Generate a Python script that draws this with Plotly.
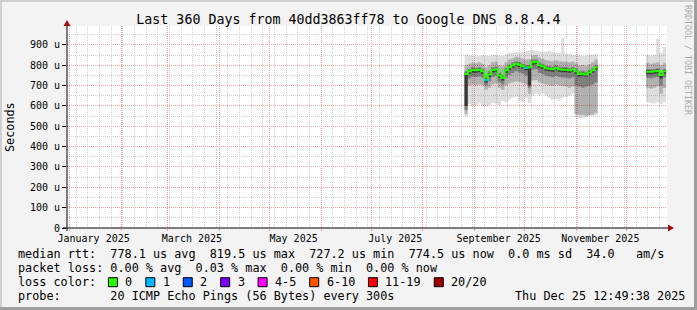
import pandas as pd
import plotly.graph_objects as go

# ---------------- data ----------------
T_START = "2024-12-30 12:49:38"
T_END = "2025-12-25 12:49:38"

# segment 1: 2-day bins starting 2025-08-26 (40 bins), segment 2: 2-day bins from 2025-12-13 (6 bins)
seg1_dates = pd.date_range("2025-08-26", periods=41, freq="2D")
seg2_dates = pd.date_range("2025-12-13", periods=7, freq="2D")

# values in microseconds
seg1_median = [757, 770, 777, 775, 778, 770, 727, 755, 777, 780,
               750, 737, 775, 790, 800, 808, 803, 795, 787, 790,
               815, 818, 800, 795, 785, 783, 780, 787, 780, 778,
               778, 775, 780, 770, 757, 760, 755, 765, 775, 790]
seg1_loss = [0, 0, 0, 0, 0, 0, 1, 0, 0, 0,
             0, 0, 0, 0, 0, 0, 0, 0, 1, 0,
             0, 0, 0, 0, 0, 0, 0, 0, 0, 0,
             0, 0, 0, 0, 0, 0, 0, 0, 0, 0]
seg1_hi1 = [850, 848, 845, 843, 846, 850, 848, 845, 850, 852,
            848, 845, 855, 860, 862, 865, 862, 866, 870, 872,
            875, 872, 868, 865, 868, 870, 865, 862, 860, 935,
            858, 855, 852, 850, 848, 845, 848, 850, 852, 855]
seg1_hi2 = [800, 808, 812, 810, 815, 808, 790, 800, 815, 818,
            800, 795, 815, 828, 835, 842, 838, 832, 828, 830,
            848, 850, 838, 832, 825, 822, 820, 825, 820, 818,
            818, 815, 818, 810, 800, 802, 798, 805, 815, 828]
seg1_hi3 = [770, 782, 790, 788, 790, 783, 745, 770, 790, 793,
            765, 752, 788, 803, 813, 820, 816, 808, 800, 803,
            828, 830, 813, 808, 798, 796, 793, 800, 793, 791,
            791, 788, 793, 783, 770, 773, 768, 778, 788, 803]
seg1_hi4 = [763, 776, 783, 781, 784, 776, 735, 762, 783, 786,
            757, 744, 781, 796, 806, 814, 809, 801, 793, 796,
            821, 824, 806, 801, 791, 789, 786, 793, 786, 784,
            784, 781, 786, 776, 763, 766, 761, 771, 781, 796]
seg1_lo4 = [600, 758, 765, 763, 766, 758, 715, 742, 765, 768,
            738, 725, 763, 778, 788, 796, 791, 783, 775, 700,
            803, 806, 788, 783, 773, 771, 768, 775, 768, 766,
            766, 763, 768, 758, 745, 748, 743, 753, 763, 778]
seg1_lo3 = [580, 735, 745, 742, 745, 738, 700, 720, 742, 748,
            715, 705, 740, 752, 762, 770, 765, 758, 750, 690,
            778, 780, 762, 757, 748, 745, 742, 748, 742, 740,
            738, 735, 740, 700, 695, 690, 695, 700, 705, 715]
seg1_lo2 = [560, 700, 705, 700, 705, 700, 680, 690, 705, 710,
            690, 680, 700, 710, 715, 720, 718, 712, 705, 660,
            725, 728, 715, 710, 705, 700, 698, 705, 700, 698,
            695, 690, 695, 560, 555, 555, 552, 555, 558, 565]
seg1_lo1 = [548, 610, 600, 605, 612, 598, 597, 605, 615, 612,
            602, 625, 620, 630, 640, 645, 625, 620, 640, 615,
            650, 660, 655, 664, 650, 640, 630, 635, 625, 640,
            645, 650, 660, 545, 541, 542, 545, 548, 550, 556]

seg2_median = [768, 768, 770, 772, 752, 770]
seg2_loss = [0, 0, 0, 0, 0, 0]
seg2_hi1 = [850, 845, 852, 930, 860, 890]
seg2_hi2 = [812, 808, 810, 815, 800, 812]
seg2_hi3 = [782, 780, 783, 785, 765, 783]
seg2_hi4 = [775, 775, 777, 779, 760, 777]
seg2_lo4 = [756, 756, 758, 760, 735, 758]
seg2_lo3 = [738, 735, 740, 742, 700, 740]
seg2_lo2 = [690, 685, 690, 695, 660, 688]
seg2_lo1 = [620, 615, 612, 618, 610, 620]

y_tickvals = [0, 100, 200, 300, 400, 500, 600, 700, 800, 900]
y_ticktext = ["0", "100 u", "200 u", "300 u", "400 u", "500 u", "600 u", "700 u", "800 u", "900 u"]
x_label_dates = ["2025-01-15 12:00", "2025-03-15 12:00", "2025-05-15 12:00",
                 "2025-07-15 12:00", "2025-09-15 12:00", "2025-11-15 12:00"]
x_label_text = ["January 2025", "March 2025", "May 2025",
                "July 2025", "September 2025", "November 2025"]

title_text = "Last 360 Days from 40dd3863ff78 to Google DNS 8.8.4.4"
legend_lines = [
    "median rtt:  778.1 us avg  819.5 us max  727.2 us min  774.5 us now  0.0 ms sd  34.0   am/s",
    "packet loss: 0.00 % avg  0.03 % max  0.00 % min  0.00 % now",
    "loss color:",
    "probe:       20 ICMP Echo Pings (56 Bytes) every 300s",
]
stamp_text = "Thu Dec 25 12:49:38 2025"
loss_labels = ["0", "1", "2", "3", "4-5", "6-10", "11-19", "20/20"]
loss_colors = ["#26ff00", "#00b8ff", "#0059ff", "#7e00ff", "#ff00ff", "#ff5500", "#ff0000", "#a00000"]

# ---------------- geometry helpers ----------------
W, H = 697, 310
PL, PR, PT, PB = 67, 667, 26, 228  # plot area in pixels


def px(x):
    return (x - PL) / (PR - PL)


def py(y):
    return (PB - y) / (PB - PT)


# translucent smoke layers so the grid shows through like in rrdtool
SMOKE = ["rgba(0,0,0,0.13)", "rgba(0,0,0,0.2)", "rgba(0,0,0,0.28)", "rgba(0,0,0,0.55)"]

fig = go.Figure()

segments = [
    (seg1_dates, seg1_median, seg1_loss,
     [(seg1_lo1, seg1_hi1), (seg1_lo2, seg1_hi2), (seg1_lo3, seg1_hi3), (seg1_lo4, seg1_hi4)]),
    (seg2_dates, seg2_median, seg2_loss,
     [(seg2_lo1, seg2_hi1), (seg2_lo2, seg2_hi2), (seg2_lo3, seg2_hi3), (seg2_lo4, seg2_hi4)]),
]

for dates, med, loss, bands in segments:
    xs = list(dates)
    for (lo, hi), col in zip(bands, SMOKE):
        fig.add_trace(go.Scatter(x=xs, y=lo + [lo[-1]], mode="lines", line=dict(width=0, shape="hv"),
                                 hoverinfo="skip", showlegend=False))
        fig.add_trace(go.Scatter(x=xs, y=hi + [hi[-1]], mode="lines", line=dict(width=0, shape="hv"),
                                 fill="tonexty", fillcolor=col, hoverinfo="skip", showlegend=False))
    fig.add_trace(go.Scatter(x=xs, y=med + [med[-1]], mode="lines",
                             line=dict(width=2, shape="hv", color=loss_colors[0]),
                             hoverinfo="skip", showlegend=False))
    # loss-coloured pieces of the median
    for i, l in enumerate(loss):
        if l > 0:
            idx = l if l <= 3 else 4
            fig.add_trace(go.Scatter(x=[xs[i], xs[i + 1]], y=[med[i], med[i]], mode="lines",
                                     line=dict(width=2, color=loss_colors[idx]),
                                     hoverinfo="skip", showlegend=False))

# invisible trace to carry the label axis
fig.add_trace(go.Scatter(x=x_label_dates, y=[0] * len(x_label_dates), xaxis="x2", mode="markers",
                         marker=dict(opacity=0), hoverinfo="skip", showlegend=False))

MONO = "DejaVu Sans Mono"
GRID_MINOR = "#d2d2d2"
GRID_MAJOR = "#ffa0a0"

fig.update_layout(
    width=W, height=H,
    margin=dict(l=PL, r=W - PR, t=PT, b=H - PB, pad=0),
    paper_bgcolor="#f3f3f3", plot_bgcolor="#ffffff",
    showlegend=False,
    font=dict(family=MONO, size=10, color="#000000"),
    title=dict(text=title_text, x=0.5, xref="container", xanchor="center",
               y=1 - 19 / H, yref="container", yanchor="middle",
               font=dict(family=MONO, size=13.3, color="#000000")),
    xaxis=dict(type="date", range=[T_START, T_END], dtick="M1", tick0="2025-01-01",
               showgrid=True, gridcolor=GRID_MAJOR, griddash="1px,1px", gridwidth=1,
               showticklabels=False, ticks="outside", ticklen=2, tickcolor=GRID_MAJOR,
               showline=False, zeroline=False, fixedrange=True,
               minor=dict(dtick=7 * 86400000, tick0="2024-12-29", showgrid=True,
                          gridcolor=GRID_MINOR, griddash="1px,1px", gridwidth=1, ticks="")),
    xaxis2=dict(type="date", overlaying="x", matches="x", side="bottom", anchor="y",
                range=[T_START, T_END], tickvals=x_label_dates, ticktext=x_label_text,
                showgrid=False, ticks="outside", ticklen=1, tickcolor="rgba(0,0,0,0)",
                showline=False, zeroline=False,
                tickfont=dict(family=MONO, size=10, color="#000000")),
    yaxis=dict(range=[0, 993], tickvals=y_tickvals, ticktext=y_ticktext,
               showgrid=True, gridcolor=GRID_MAJOR, griddash="1px,1px", gridwidth=1,
               ticks="outside", ticklen=4, tickcolor="#000000", tickwidth=1,
               showline=False, zeroline=False, fixedrange=True,
               tickfont=dict(family=MONO, size=10, color="#000000"),
               minor=dict(dtick=50, tick0=0, showgrid=True, gridcolor=GRID_MINOR,
                          griddash="1px,1px", gridwidth=1, ticks="")),
)

shapes = []
# frame
shapes.append(dict(type="rect", xref="paper", yref="paper", x0=px(0), x1=px(2), y0=py(H), y1=py(0),
                   fillcolor="#cfcfcf", line=dict(width=0), layer="above"))
shapes.append(dict(type="rect", xref="paper", yref="paper", x0=px(0), x1=px(W), y0=py(2), y1=py(0),
                   fillcolor="#cfcfcf", line=dict(width=0), layer="above"))
shapes.append(dict(type="rect", xref="paper", yref="paper", x0=px(W - 3), x1=px(W), y0=py(H), y1=py(0),
                   fillcolor="#9e9e9e", line=dict(width=0), layer="above"))
shapes.append(dict(type="rect", xref="paper", yref="paper", x0=px(0), x1=px(W), y0=py(H), y1=py(H - 3),
                   fillcolor="#9e9e9e", line=dict(width=0), layer="above"))
# axes with arrows
shapes.append(dict(type="line", xref="paper", yref="paper", x0=px(63), x1=px(669), y0=0, y1=0,
                   line=dict(color="#000000", width=1), layer="above"))
shapes.append(dict(type="line", xref="paper", yref="paper", x0=0, x1=0, y0=py(231), y1=py(24),
                   line=dict(color="#000000", width=1), layer="above"))
shapes.append(dict(type="path", xref="paper", yref="paper",
                   path=f"M {px(668)} {py(224.5)} L {px(674)} {py(228)} L {px(668)} {py(231.5)} Z",
                   fillcolor="#a01010", line=dict(width=0), layer="above"))
shapes.append(dict(type="path", xref="paper", yref="paper",
                   path=f"M {px(63.5)} {py(26)} L {px(67)} {py(20)} L {px(70.5)} {py(26)} Z",
                   fillcolor="#a01010", line=dict(width=0), layer="above"))

annotations = []
LEG = 11.8
CW = 7.11
row_y = [254.3, 268.3, 282.3, 296.2]
for text, yy in zip(legend_lines, row_y):
    annotations.append(dict(text=text.replace(" ", "\u00a0"), xref="paper", yref="paper",
                            x=px(16), y=py(yy), xanchor="left", yanchor="middle", showarrow=False,
                            font=dict(family=MONO, size=LEG, color="#000000")))
annotations.append(dict(text=stamp_text.replace(" ", "\u00a0"), xref="paper", yref="paper",
                        x=px(513), y=py(row_y[3]), xanchor="left", yanchor="middle",
                        showarrow=False, font=dict(family=MONO, size=LEG, color="#000000")))
# loss colour legend boxes
bx = 16 + 13 * CW
for lab, col in zip(loss_labels, loss_colors):
    shapes.append(dict(type="rect", xref="paper", yref="paper", x0=px(bx), x1=px(bx + 9),
                       y0=py(282.2 + 4.5), y1=py(282.2 - 4.5), fillcolor=col,
                       line=dict(color="#000000", width=1), layer="above"))
    annotations.append(dict(text=lab, xref="paper", yref="paper", x=px(bx + 15), y=py(row_y[2]),
                            xanchor="left", yanchor="middle", showarrow=False,
                            font=dict(family=MONO, size=LEG, color="#000000")))
    bx = bx + 15 + len(lab) * CW + 15.3

annotations.append(dict(text="Seconds", xref="paper", yref="paper", x=px(10), y=py(127),
                        xanchor="center", yanchor="middle", textangle=-90, showarrow=False,
                        font=dict(family=MONO, size=LEG, color="#000000")))
annotations.append(dict(text="RRDTOOL / TOBI OETIKER".replace(" ", "\u00a0"), xref="paper", yref="paper",
                        x=px(688), y=py(60), xanchor="center", yanchor="middle", textangle=90,
                        showarrow=False, font=dict(family=MONO, size=8.3, color="#aaaaaa")))

fig.update_layout(shapes=shapes, annotations=annotations)
fig.write_html("out.html")
